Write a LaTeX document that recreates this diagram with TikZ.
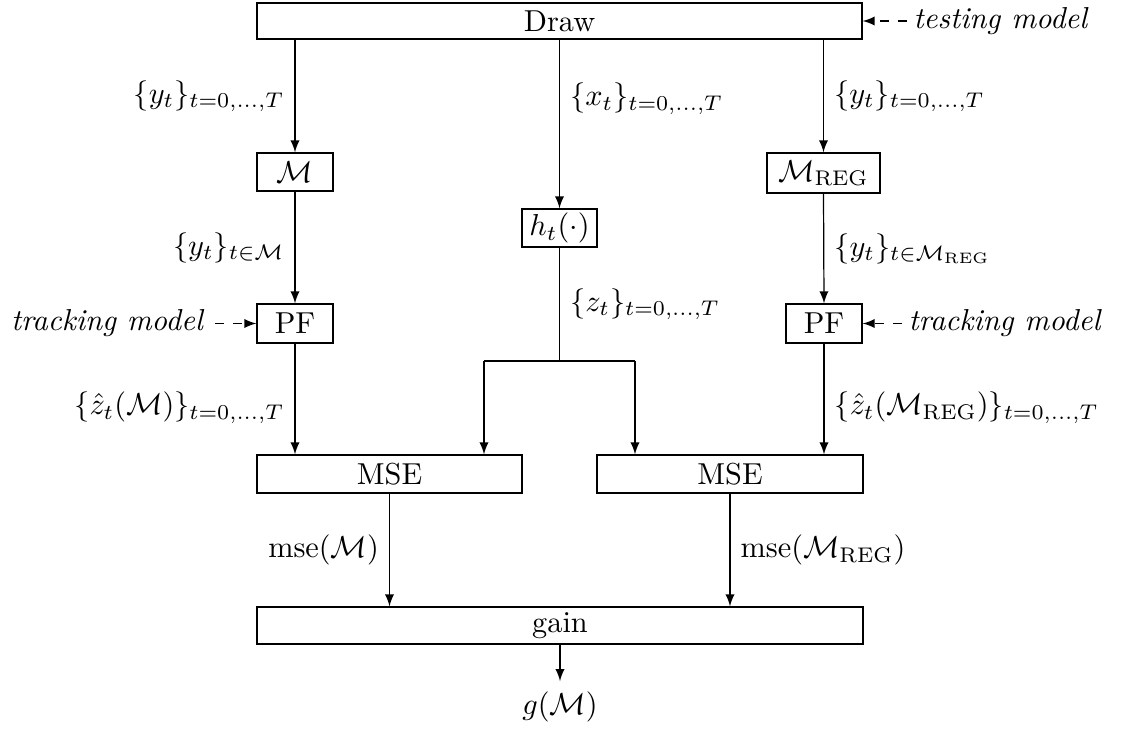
\documentclass[tikz,border=0pt]{standalone}
\usetikzlibrary{arrows}
\begin{document}
\begin{tikzpicture}[x=0.33pt,y=-0.33pt,
  pbox/.style 2 args={draw, inner sep=0pt, minimum width={#1*0.33pt}, minimum height={#2*0.33pt}},
  arr/.style={->,>=latex},
  darr/.style={->,>=latex,dashed},
  lbl/.style={inner sep=3.3pt}]
\useasboundingbox (0,0) rectangle (1121,731);
% boxes
\node[pbox={605}{36}] (draw) at (559.5,21) {Draw};
\node[pbox={76}{38}] (m) at (295,172) {$\mathcal{M}$};
\node[pbox={75}{38}] (ht) at (559.5,228) {$h_t(\cdot)$};
\node[pbox={113}{40}] (mreg) at (823.5,173) {$\mathcal{M}_{\mathrm{REG}}$};
\node[pbox={76}{39}] (pfl) at (295,323.5) {PF};
\node[pbox={76}{39}] (pfr) at (824,323.5) {PF};
\node[pbox={265}{38}] (msel) at (389.5,474) {MSE};
\node[pbox={266}{38}] (mser) at (730,474) {MSE};
\node[pbox={606}{37}] (gain) at (560,625.5) {gain};
\node (gm) at (560,707) {$g(\mathcal{M})$};
% side texts
\node[anchor=west,inner sep=2pt] (tm) at (907,21) {\textit{testing model}};
\node[anchor=east] (tl) at (215,323.5) {\textit{tracking model}};
\node[anchor=west,inner sep=2pt] (tr) at (902,323.5) {\textit{tracking model}};
\draw[darr] (tm.west) -- (draw.east |- tm.west);
\draw[darr] (tl.east) -- (pfl.west);
\draw[darr] (tr.west) -- (pfr.east);
% split coordinates
\coordinate (sp) at (559.5,361);
\coordinate (spl) at (484,361);
\coordinate (spr) at (635,361);
% arrows
\draw[arr] (draw.south -| m.north) -- node[left,lbl] {$\{y_t\}_{t=0,\dots,T}$} (m.north);
\draw[arr] (draw.south -| ht.north) -- node[pos=0.35,right,lbl] {$\{x_t\}_{t=0,\dots,T}$} (ht.north);
\draw[arr] (draw.south -| mreg.north) -- node[right,lbl] {$\{y_t\}_{t=0,\dots,T}$} (mreg.north);
\draw[arr] (m.south) -- node[left,lbl] {$\{y_t\}_{t\in\mathcal{M}}$} (pfl.north);
\draw[arr] (mreg.south) -- node[right,lbl] {$\{y_t\}_{t\in\mathcal{M}_{\mathrm{REG}}}$} (pfr.north);
\draw (ht.south) -- node[right,lbl] {$\{z_t\}_{t=0,\dots,T}$} (sp);
\draw (spl) -- (spr);
\draw[arr] (spl) -- (spl |- msel.north);
\draw[arr] (spr) -- (spr |- mser.north);
\draw[arr] (pfl.south) -- node[pos=0.58,left,lbl] {$\{\hat{z}_t(\mathcal{M})\}_{t=0,\dots,T}$} (pfl.south |- msel.north);
\draw[arr] (pfr.south) -- node[pos=0.58,right,lbl] {$\{\hat{z}_t(\mathcal{M}_{\mathrm{REG}})\}_{t=0,\dots,T}$} (pfr.south |- mser.north);
\draw[arr] (msel.south) -- node[left,lbl] {$\mathrm{mse}(\mathcal{M})$} (msel.south |- gain.north);
\draw[arr] (mser.south) -- node[right,lbl] {$\mathrm{mse}(\mathcal{M}_{\mathrm{REG}})$} (mser.south |- gain.north);
\draw[arr] (gain.south) -- (gm.north);
\end{tikzpicture}
\end{document}
